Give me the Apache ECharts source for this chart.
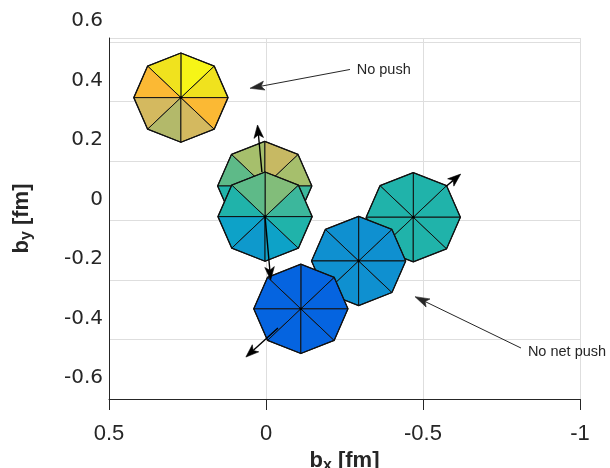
<!DOCTYPE html>
<html><head><meta charset="utf-8">
<script src="https://cdn.jsdelivr.net/npm/echarts@6/dist/echarts.min.js"></script>
<style>html,body{margin:0;padding:0;background:#fff}#c{width:610px;height:468px}</style>
</head><body><div id="c"></div>
<script>
// ---------------- data (fm) ----------------
const xTicks = [0.5, 0, -0.5, -1];
const yTicks = [-0.6, -0.4, -0.2, 0, 0.2, 0.4, 0.6];
// octagon centres and radii
const octX = [0.271, 0.004, 0.003, -0.469, -0.295, -0.111];
const octY = [0.413, 0.116, 0.013, 0.011, -0.136, -0.297];
const octR = [0.15, 0.15, 0.15, 0.15, 0.15, 0.15];
// colour level of the 8 wedges of each octagon, counter-clockwise (on screen) starting at the right-hand vertex
const wedgeLevel = [
  [10, 11, 10, 9, 8, 7, 8, 9],
  [6, 7.6, 6, 5, 3, 2, 2, 4],
  [4, 5.5, 5, 3, 2, 1.5, 2, 3],
  [3, 3, 3, 3, 3, 3, 3, 3],
  [1, 1, 1, 1, 1, 1, 1, 1],
  [0, 0, 0, 0, 0, 0, 0, 0]
];
// push arrows (start -> tip)
const pushFromX = [0.013, 0.003, -0.038, -0.575];
const pushFromY = [0.163, 0.013, -0.361, 0.116];
const pushToX = [0.027, -0.015, 0.064, -0.620];
const pushToY = [0.321, -0.200, -0.459, 0.156];
// annotations
const noteText = ['No push', 'No net push'];
const noteX = [-0.289, -0.834];
const noteY = [0.506, -0.441];
const noteFromX = [-0.2675, -0.812];
const noteFromY = [0.5076, -0.4286];
const noteToX = [0.051, -0.4745];
const noteToY = [0.4444, -0.256];

// ---------------- styles ----------------
const levelColors = ['#0564e0', '#0f90d0', '#0da2c8', '#20b3aa', '#3cb79c', '#5eba88',
  '#a6bf6c', '#b3b96a', '#d4b95f', '#fbb934', '#f0e21e', '#f6f517'];
function hexRgb(h){return [parseInt(h.slice(1,3),16),parseInt(h.slice(3,5),16),parseInt(h.slice(5,7),16)];}
function levelColor(v){
  const i = Math.max(0, Math.min(levelColors.length - 1, Math.floor(v)));
  const f = v - i;
  if (f <= 0 || i >= levelColors.length - 1) return levelColors[i];
  const a = hexRgb(levelColors[i]), b = hexRgb(levelColors[i + 1]);
  return 'rgb(' + a.map((c, k) => Math.round(c + (b[k] - c) * f)).join(',') + ')';
}
const AX = '#262626';
const GRID = '#dedede';

const chart = echarts.init(document.getElementById('c'), null, {renderer: 'canvas'});

function octItem(params, api) {
  const cx = api.value(0), cy = api.value(1), r = api.value(2), k = api.value(3);
  const c = api.coord([cx, cy]);
  const verts = [];
  for (let j = 0; j < 8; j++) {
    const a = j * Math.PI / 4;
    // x axis is reversed: screen-right is data -x
    verts.push(api.coord([cx - r * Math.cos(a), cy + r * Math.sin(a)]));
  }
  const children = [];
  for (let j = 0; j < 8; j++) {
    children.push({
      type: 'polygon',
      shape: {points: [c, verts[j], verts[(j + 1) % 8]]},
      style: {fill: levelColor(wedgeLevel[k][j]), stroke: '#111', lineWidth: 1, lineJoin: 'round'}
    });
  }
  children.push({type: 'polygon', shape: {points: verts},
    style: {fill: null, stroke: '#111', lineWidth: 1.3, lineJoin: 'round'}});
  children.push({type: 'circle', shape: {cx: c[0], cy: c[1], r: 1.4}, style: {fill: '#000'}});
  return {type: 'group', children};
}

function arrowRenderer(L, W, back, lw, color) {
  return function (params, api) {
    const p0 = api.coord([api.value(0), api.value(1)]);
    const p1 = api.coord([api.value(2), api.value(3)]);
    const dx = p1[0] - p0[0], dy = p1[1] - p0[1];
    const len = Math.hypot(dx, dy), ux = dx / len, uy = dy / len, nx = -uy, ny = ux;
    const base = [p1[0] - ux * L * back, p1[1] - uy * L * back];
    return {type: 'group', children: [
      {type: 'line', shape: {x1: p0[0], y1: p0[1], x2: base[0], y2: base[1]},
        style: {stroke: color, lineWidth: lw}},
      {type: 'polygon', shape: {points: [p1,
        [p1[0] - ux * L + nx * W, p1[1] - uy * L + ny * W], base,
        [p1[0] - ux * L - nx * W, p1[1] - uy * L - ny * W]]},
        style: {fill: color, stroke: color, lineWidth: 0.6, lineJoin: 'miter'}}
    ]};
  };
}

const nameRich = {
  b: {fontFamily: 'Liberation Sans', fontWeight: 'bold', fontSize: 22, color: AX, lineHeight: 24, verticalAlign: 'top'},
  s: {fontFamily: 'Liberation Sans', fontWeight: 'bold', fontSize: 16, color: AX, lineHeight: 10, verticalAlign: 'bottom'}
};

chart.setOption({
  animation: false,
  backgroundColor: '#fff',
  grid: {left: 109, right: 30, top: 38, bottom: 69, containLabel: false, outerBoundsMode: 'none'},
  xAxis: {
    type: 'value', min: -1, max: 0.5, interval: 0.5, inverse: true,
    axisLine: {show: true, onZero: false, lineStyle: {color: AX, width: 1}},
    axisTick: {show: true, inside: false, length: 11, lineStyle: {color: AX, width: 1}},
    axisLabel: {color: AX, fontFamily: 'Liberation Sans', fontSize: 22, margin: 24,
      formatter: v => {
        const t = xTicks.find(t => Math.abs(t - v) < 1e-9);
        return t === undefined ? '' : String(t);
      }},
    splitLine: {show: true, lineStyle: {color: GRID, width: 1}},
    name: '{b|b}{s|x}{b| [fm]}', nameLocation: 'middle', nameGap: 44,
    nameTextStyle: {rich: nameRich}
  },
  yAxis: {
    type: 'value', min: -0.6, max: 0.6134, interval: 0.2,
    axisLine: {show: true, onZero: false, lineStyle: {color: AX, width: 1}},
    axisTick: {show: false},
    axisLabel: {color: AX, fontFamily: 'DejaVu Sans', fontSize: 20, margin: 6,
      verticalAlign: 'bottom', lineHeight: 42,
      formatter: v => {
        const t = yTicks.find(t => Math.abs(t - v) < 1e-6);
        return t === undefined ? '' : String(t);
      }},
    splitLine: {show: true, lineStyle: {color: GRID, width: 1}},
    name: '{b|b}{s|y}{b| [fm]}', nameLocation: 'middle', nameGap: 74, nameRotate: 90,
    nameTextStyle: {rich: nameRich}
  },
  series: [
    {
      type: 'custom', name: 'octagons', clip: false, z: 2,
      renderItem: octItem,
      data: octX.map((x, i) => [x, octY[i], octR[i], i])
    },
    {
      type: 'custom', name: 'push', clip: false, z: 3,
      renderItem: arrowRenderer(13, 4.8, 0.75, 1.4, '#000'),
      data: pushFromX.map((x, i) => [x, pushFromY[i], pushToX[i], pushToY[i]])
    },
    {
      type: 'custom', name: 'noteArrows', clip: false, z: 3,
      renderItem: arrowRenderer(14.5, 4.5, 0.78, 1, AX),
      data: noteFromX.map((x, i) => [x, noteFromY[i], noteToX[i], noteToY[i]])
    },
    {
      type: 'custom', name: 'notes', clip: false, z: 3,
      renderItem: (params, api) => {
        const p = api.coord([api.value(0), api.value(1)]);
        return {type: 'text', x: p[0], y: p[1], style: {
          text: noteText[api.value(2)], fill: AX, font: '14.5px "Liberation Sans"',
          align: 'left', verticalAlign: 'middle'}};
      },
      data: noteX.map((x, i) => [x, noteY[i], i])
    }
  ]
});
</script></body></html>
